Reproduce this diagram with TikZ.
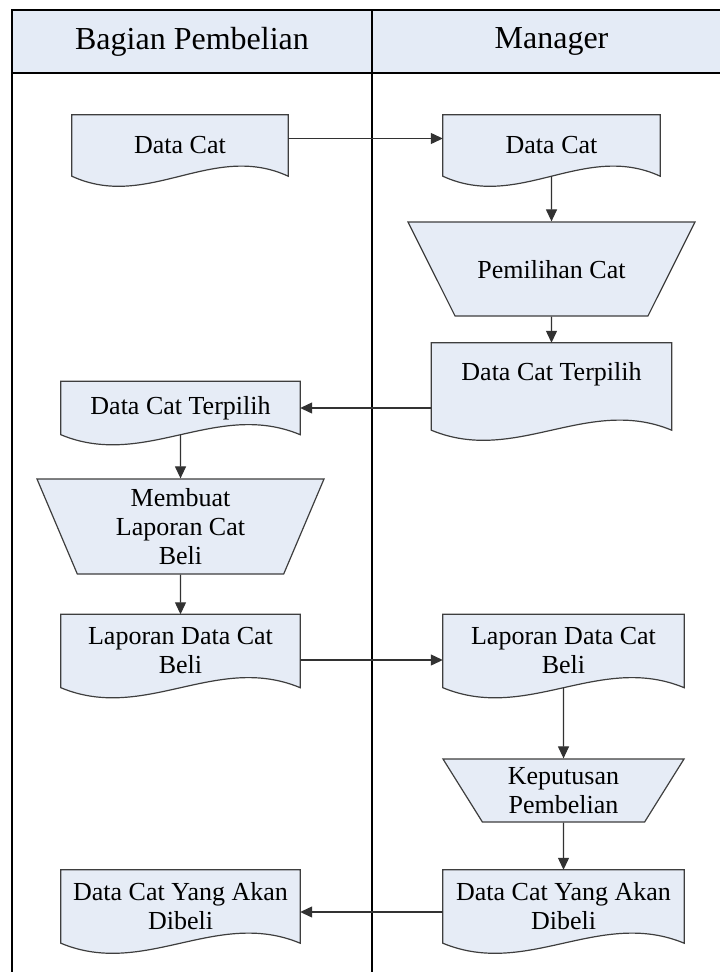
\documentclass[tikz,border=0pt]{standalone}
\usepackage{fontspec}
\setmainfont{Liberation Serif}
\usetikzlibrary{shapes.geometric,arrows.meta,calc,backgrounds}

\definecolor{shapefill}{RGB}{230,236,246}
\definecolor{headfill}{RGB}{228,235,246}
\definecolor{shapeline}{RGB}{62,62,62}
\definecolor{flowline}{RGB}{50,50,50}

\newcommand{\boxfont}{\fontsize{26}{29}\selectfont}
\newcommand{\headfont}{\fontsize{32}{38}\selectfont}

\newcommand{\docshape}[2][0pt]{%
  \filldraw[docbody] (#2.north west) -- (#2.north east) -- ([yshift=-#1]#2.south east)
    .. controls ([yshift=-#1+35pt]$(#2.south west)!0.65!(#2.south east)$)
    and ([yshift=-#1-35pt]$(#2.south west)!0.35!(#2.south east)$)
    .. ([yshift=-#1]#2.south west) -- cycle;}

\begin{document}
\begin{tikzpicture}[
  x=1pt, y=-1pt,
  lane/.style={draw=black, line width=1.2pt},
  head/.style={font=\headfont, inner sep=0pt},
  doc/.style={rectangle, inner sep=3pt, align=center, font=\boxfont},
  docbody/.style={fill=shapefill, draw=shapeline, line width=1.2pt},
  manual/.style={trapezium, trapezium stretches body, shape border rotate=180,
    fill=shapefill, draw=shapeline, line width=1.2pt, inner sep=3pt,
    align=center, font=\boxfont},
  flow/.style={draw=flowline, line width=1.2pt, -{Triangle[length=12pt,width=11pt]}}
]
\useasboundingbox (0,0) rectangle (720,972);

\fill[headfill] (12,10) rectangle (731,73);
\draw[lane] (12,975) -- (12,10) -- (731,10) -- (731,975);
\draw[lane] (12,73) -- (731,73);
\draw[lane] (372,10) -- (372,975);
\node[head] (h1) at (192,41.5) {Bagian Pembelian};
\node[head] (h2) at (551.5,41.5) {Manager};

\node[doc, minimum width=216pt, minimum height=61pt] (d1) at (180,145.5) {Data Cat};
\node[doc, minimum width=217pt, minimum height=61pt] (d2) at (551.5,145.5) {Data Cat};
\node[manual, minimum width=287pt, minimum height=94pt, trapezium angle=63.4,
  text height=53.6pt, text depth=34.4pt] (p1) at (551.5,269) {Pemilihan Cat};
\node[doc, minimum width=240pt, minimum height=62pt] (d3) at (551.5,374) {Data Cat Terpilih};
\node[doc, minimum width=239pt, minimum height=53pt] (d4) at (180.5,408) {Data Cat Terpilih};
\node[manual, minimum width=287pt, minimum height=95pt, trapezium angle=63.9] (p2) at (180.5,526.5) {Membuat\\Laporan Cat\\Beli};
\node[doc, minimum width=239pt, minimum height=73pt] (d5) at (180.5,651) {Laporan Data Cat\\Beli};
\node[doc, minimum width=241pt, minimum height=73pt] (d6) at (563.5,651) {Laporan Data Cat\\Beli};
\node[manual, minimum width=241pt, minimum height=63pt, trapezium angle=53] (p3) at (563.5,790.5) {Keputusan\\Pembelian};
\node[doc, minimum width=241pt, minimum height=73pt] (d7) at (563.5,906.5) {Data Cat Yang Akan\\Dibeli};
\node[doc, minimum width=239pt, minimum height=73pt] (d8) at (180.5,906.5) {Data Cat Yang Akan\\Dibeli};

\begin{scope}[on background layer]
\foreach \n in {d1,d2,d4,d5,d6,d7,d8} {\docshape{\n}}
\docshape[25pt]{d3}
\end{scope}

\draw[flow] ([yshift=7pt]d1.east) -- ([yshift=7pt]d2.west);
\draw[flow] (d2.south) -- (p1.north);
\draw[flow] (p1.south) -- (d3.north);
\draw[flow] (d3.west |- d4.east) -- (d4.east);
\draw[flow] (d4.south) -- (p2.north);
\draw[flow] (p2.south) -- (d5.north);
\draw[flow] ([yshift=-9pt]d5.east) -- ([yshift=-9pt]d6.west);
\draw[flow] (d6.south) -- (p3.north);
\draw[flow] (p3.south) -- (d7.north);
\draw[flow] ([yshift=-5.5pt]d7.west) -- ([yshift=-5.5pt]d8.east);
\end{tikzpicture}
\end{document}
